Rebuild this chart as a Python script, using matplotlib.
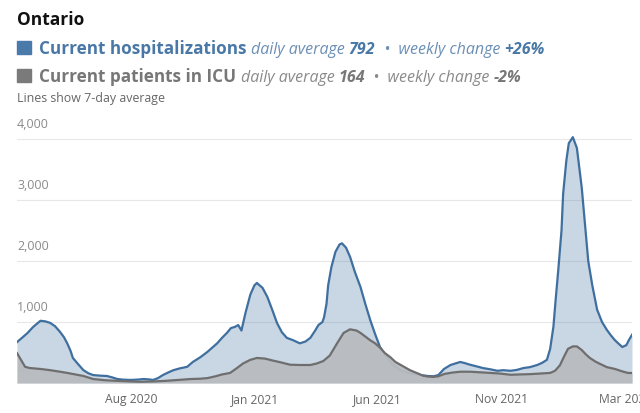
import pandas as pd
import matplotlib.pyplot as plt

plt.rcParams['font.family'] = ['Open Sans', 'DejaVu Sans']

# days since 2020-03-01 (7-day averages)
hosp_days = [12, 19, 25, 32, 41, 47, 53, 59, 65, 70, 74, 78, 81, 88, 94, 100, 106, 115, 123, 130,
             136, 143, 152, 160, 168, 174, 180, 186, 192, 199, 205, 213, 222, 229, 238, 247, 253, 259,
             265, 271, 276, 281, 285, 289, 294, 300, 305, 308, 315, 321, 327, 333, 339, 345, 353, 361,
             368, 374, 380, 384, 389, 391, 394, 396, 400, 405, 410, 413, 418, 423, 429, 436, 442, 448,
             454, 460, 469, 476, 485, 497, 510, 519, 526, 532, 539, 547, 553, 559, 565, 571, 580, 587,
             596, 605, 612, 621, 629, 637, 645, 654, 660, 666, 670, 674, 677, 680, 684, 686, 690, 693,
             698, 703, 709, 713, 717, 722, 728, 734, 740, 745, 750, 754, 759, 764, 767, 771]
hosp_vals = [670, 750, 820, 920, 1020, 1010, 985, 930, 840, 750, 650, 530, 410, 300, 210, 160, 130, 120, 115, 90,
             65, 55, 50, 55, 65, 60, 50, 80, 130, 175, 210, 240, 265, 345, 420, 510, 580, 650,
             740, 820, 900, 920, 950, 860, 1150, 1450, 1600, 1640, 1560, 1410, 1200, 980, 830, 740, 700, 650,
             680, 740, 860, 950, 1000, 1080, 1300, 1600, 1900, 2150, 2270, 2290, 2220, 2070, 1820, 1570, 1290, 1030,
             800, 590, 410, 300, 210, 160, 130, 115, 110, 130, 230, 295, 320, 345, 325, 300, 270, 245,
             225, 200, 210, 200, 215, 245, 260, 295, 330, 380, 560, 920, 1400, 1850, 2500, 3100, 3650, 3930,
             4030, 3850, 3200, 2600, 2000, 1600, 1200, 1000, 870, 780, 700, 650, 590, 620, 700, 790]

icu_days = [12, 16, 22, 28, 41, 53, 65, 74, 84, 94, 106, 121, 136, 152, 164, 180, 195, 211, 226, 238,
            247, 257, 265, 275, 284, 291, 300, 308, 318, 327, 337, 349, 361, 374, 382, 390, 398, 407,
            415, 423, 431, 436, 442, 448, 454, 460, 466, 473, 479, 489, 497, 506, 513, 519, 526, 532,
            540, 549, 559, 571, 584, 596, 608, 621, 633, 645, 658, 670, 676, 682, 687, 692, 698, 703,
            709, 714, 719, 726, 732, 740, 750, 759, 766, 771]
icu_vals = [490, 400, 265, 245, 230, 210, 185, 165, 140, 115, 65, 45, 35, 25, 20, 25, 35, 50, 65, 70,
            80, 110, 140, 165, 250, 320, 380, 410, 400, 370, 340, 300, 295, 295, 320, 360, 450, 650,
            820, 880, 860, 820, 760, 700, 650, 580, 490, 420, 345, 270, 210, 160, 120, 105, 100, 110,
            150, 170, 185, 185, 175, 165, 155, 135, 140, 145, 155, 165, 200, 290, 430, 560, 600, 600,
            540, 470, 410, 350, 310, 260, 230, 190, 165, 164]

tick_dates = ['2020-08-01', '2021-01-01', '2021-06-01', '2021-11-01', '2022-03-01']
tick_labels = ['Aug 2020', 'Jan 2021', 'Jun 2021', 'Nov 2021', 'Mar 2022']
y_ticks = [0, 1000, 2000, 3000, 4000]

start = pd.Timestamp('2020-03-01')
hosp_x = start + pd.to_timedelta(hosp_days, unit='D')
icu_x = start + pd.to_timedelta(icu_days, unit='D')

blue = '#3f6f9f'
gray = '#6e6e6e'

fig = plt.figure(figsize=(6.4, 4.13), dpi=100)
W, H = 640, 413
ax = fig.add_axes([17 / W, 30 / H, 615 / W, 265 / H])

# hospital fill is see-through, gridlines and the 0 label show faintly under it
ax.fill_between(hosp_x, hosp_vals, color=blue, alpha=0.28, zorder=2, lw=0)
ax.plot(hosp_x, hosp_vals, color=blue, lw=1.6, zorder=3)
ax.fill_between(icu_x, icu_vals, color='#b9bcbf', alpha=0.95, zorder=4, lw=0)
ax.plot(icu_x, icu_vals, color=gray, lw=1.6, zorder=5)

ax.set_xlim(hosp_x[0], hosp_x[-1])
ax.set_ylim(0, 4344)
for v in y_ticks[1:]:
    ax.axhline(v, color='#e8e8e8', lw=0.8, zorder=0)
for v in y_ticks:
    ax.text(hosp_x[0], v + 130, f'{v:,}', fontsize=9, color='#8a8a8a',
            ha='left', va='bottom', zorder=1)

ax.set_yticks([])
ax.set_xticks(pd.to_datetime(tick_dates))
ax.set_xticklabels(tick_labels, fontsize=8.7, color='#666666')
ax.get_xticklabels()[-1].set_ha('left')
ax.tick_params(axis='x', length=0, pad=7)
for s in ax.spines.values():
    s.set_visible(False)

# header
fig.text(17 / W, 1 - 25 / H, 'Ontario', fontsize=12.5, fontweight='bold', color='#111111', va='baseline')

renderer = fig.canvas.get_renderer()


def write_row(y, pieces):
    x = 39
    for txt, size, weight, style, color in pieces:
        t = fig.text(x / W, 1 - y / H, txt, fontsize=size, fontweight=weight, fontstyle=style,
                     color=color, va='baseline')
        x += t.get_window_extent(renderer).width


fig.patches.append(plt.Rectangle((17 / W, 1 - 54 / H), 14 / W, 13 / H, transform=fig.transFigure,
                                 color='#4a7aaa'))
write_row(54, [('Current hospitalizations ', 12.35, 'bold', 'normal', '#4a78a6'),
               ('daily average ', 11.5, 'normal', 'italic', '#6b8fb6'),
               ('792', 11.5, 'bold', 'italic', '#4a78a6'),
               ('  \u2022  weekly change ', 11.5, 'normal', 'italic', '#6b8fb6'),
               ('+26%', 11.5, 'bold', 'italic', '#4a78a6')])

fig.patches.append(plt.Rectangle((17 / W, 1 - 82 / H), 14 / W, 13 / H, transform=fig.transFigure,
                                 color='#7a7a7a'))
write_row(82, [('Current patients in ICU ', 12.35, 'bold', 'normal', '#777777'),
               ('daily average ', 11.5, 'normal', 'italic', '#8a8a8a'),
               ('164', 11.5, 'bold', 'italic', '#777777'),
               ('  \u2022  weekly change ', 11.5, 'normal', 'italic', '#8a8a8a'),
               ('-2%', 11.5, 'bold', 'italic', '#777777')])

fig.text(17 / W, 1 - 102 / H, 'Lines show 7-day average', fontsize=8.9, color='#666666', va='baseline')

fig.savefig('out.png', dpi=100)
